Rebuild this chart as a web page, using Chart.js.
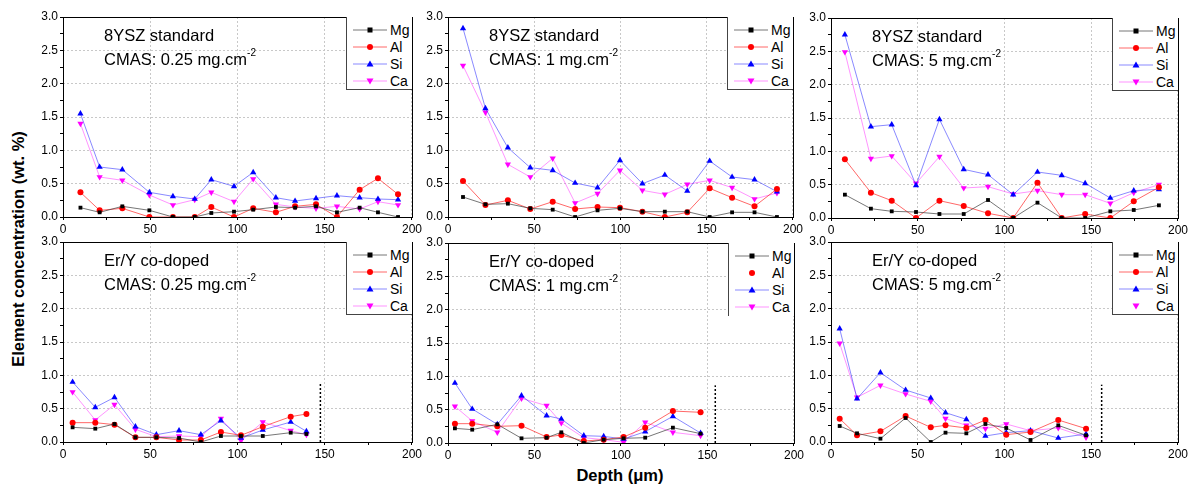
<!DOCTYPE html>
<html lang="en">
<head>
<meta charset="UTF-8">
<title>Element concentration vs depth</title>
<script src="https://cdn.jsdelivr.net/npm/chart.js"></script>
<style>
  body { margin: 0; background: #fff; font-family: Arial, 'Liberation Sans', sans-serif; color: #000; }
  #wrap { position: relative; width: 1193px; height: 486px; overflow: hidden; }
  canvas { position: absolute; }
  .note { position: absolute; font-size: 16.5px; line-height: 23.5px; white-space: nowrap; }
  .note sup { font-size: 10px; vertical-align: baseline; position: relative; top: -0.85em; }
  .legend { position: absolute; background: #fff; border-left: 1px solid #444; border-bottom: 1px solid #444; padding-top: 4px; box-sizing: border-box; }
  .legend.nobottom { border-bottom: none; }
  .legend .row { height: 17px; display: flex; align-items: center; font-size: 14px; }
  .legend svg { margin: 0 3px 0 6px; }
  .ytitle { position: absolute; left: 18px; top: 249px; font-weight: bold; font-size: 16.5px; white-space: nowrap;
            transform: translate(-50%, -50%) rotate(-90deg); }
  .xtitle { position: absolute; left: 620px; top: 475px; font-weight: bold; font-size: 16.5px; white-space: nowrap;
            transform: translate(-50%, -50%); }
</style>
</head>
<body>
<div id="wrap">
  <div class="ytitle">Element concentration (wt. %)</div>
  <div class="xtitle">Depth (μm)</div>
</div>

<script>
// ---- data ----
const elements = ['Mg', 'Al', 'Si', 'Ca'];

// 8YSZ standard, CMAS 0.25 mg/cm2
const ysz025Depth = [10, 21, 34, 49.5, 63, 75.5, 85, 98, 109, 122, 133, 145, 157, 170, 180.5, 192];
const ysz025Mg = [0.14, 0.07, 0.16, 0.10, 0, 0, 0.06, 0.08, 0.11, 0.15, 0.14, 0.16, 0.07, 0.14, 0.07, 0.0];
const ysz025Al = [0.37, 0.10, 0.13, 0, 0, 0, 0.15, 0, 0.13, 0.07, 0.16, 0.19, 0, 0.41, 0.58, 0.34];
const ysz025Si = [1.55, 0.75, 0.71, 0.37, 0.31, 0.27, 0.56, 0.46, 0.67, 0.29, 0.24, 0.28, 0.32, 0.29, 0.27, 0.26];
const ysz025Ca = [1.40, 0.60, 0.55, 0.33, 0.18, 0.26, 0.37, 0.23, 0.57, 0.19, 0.15, 0.13, 0.16, 0.12, 0.23, 0.18];

// 8YSZ standard, CMAS 1 mg/cm2
const ysz1Depth = [8.7, 21.7, 34.7, 47.7, 60.7, 73.7, 86.7, 99.7, 112.7, 125.7, 138.7, 151.7, 164.7, 177.7, 190.7];
const ysz1Mg = [0.30, 0.19, 0.20, 0.13, 0.11, 0.0, 0.10, 0.13, 0.08, 0.08, 0.08, 0.0, 0.07, 0.07, 0.0];
const ysz1Al = [0.54, 0.18, 0.25, 0.12, 0.23, 0.12, 0.15, 0.14, 0.08, 0.0, 0.07, 0.43, 0.29, 0.16, 0.42];
const ysz1Si = [2.83, 1.63, 1.04, 0.74, 0.70, 0.51, 0.44, 0.85, 0.50, 0.63, 0.39, 0.84, 0.60, 0.56, 0.38];
const ysz1Ca = [2.27, 1.57, 0.79, 0.60, 0.88, 0.21, 0.35, 0.70, 0.40, 0.34, 0.49, 0.55, 0.44, 0.27, 0.36];

// 8YSZ standard, CMAS 5 mg/cm2
const ysz5Depth = [8, 23, 35, 49, 62.5, 76.5, 90.5, 105, 119, 133, 146.5, 161, 174.5, 189];
const ysz5Mg = [0.35, 0.14, 0.10, 0.09, 0.06, 0.06, 0.27, 0.0, 0.23, 0.0, 0.0, 0.10, 0.12, 0.19];
const ysz5Al = [0.88, 0.38, 0.26, 0.0, 0.26, 0.18, 0.07, 0.0, 0.53, 0.0, 0.06, 0.0, 0.25, 0.46];
const ysz5Si = [2.75, 1.37, 1.40, 0.49, 1.48, 0.73, 0.65, 0.35, 0.69, 0.64, 0.52, 0.30, 0.41, 0.43];
const ysz5Ca = [2.49, 0.89, 0.93, 0.52, 0.92, 0.45, 0.47, 0.36, 0.41, 0.35, 0.35, 0.22, 0.38, 0.50];

// Er/Y co-doped, CMAS 0.25 mg/cm2
const ery025Depth = [5.5, 18.5, 29.5, 41.5, 53.5, 66.5, 79, 90.5, 102, 114.5, 130.5, 139.5];
const ery025Mg = [0.22, 0.20, 0.27, 0.07, 0.07, 0.06, 0.0, 0.09, 0.09, 0.09, 0.14, 0.12];
const ery025Al = [0.29, 0.29, 0.26, 0.07, 0.07, 0.03, 0.03, 0.15, 0.10, 0.23, 0.38, 0.42];
const ery025Si = [0.90, 0.52, 0.67, 0.23, 0.11, 0.17, 0.11, 0.32, 0.06, 0.18, 0.30, 0.16];
const ery025Ca = [0.75, 0.33, 0.56, 0.19, 0.08, 0.09, 0.08, 0.35, 0.02, 0.30, 0.17, 0.11];

// Er/Y co-doped, CMAS 1 mg/cm2
const ery1Depth = [4, 14, 28.5, 42.5, 57, 65.5, 78.5, 90, 101.5, 114, 130, 146];
const ery1Mg = [0.22, 0.20, 0.28, 0.07, 0.08, 0.16, 0.0, 0.05, 0.07, 0.08, 0.23, 0.14];
const ery1Al = [0.29, 0.29, 0.25, 0.26, 0.09, 0.12, 0.03, 0.05, 0.09, 0.23, 0.48, 0.46];
const ery1Si = [0.90, 0.51, 0.28, 0.71, 0.41, 0.36, 0.11, 0.10, 0.06, 0.17, 0.40, 0.15];
const ery1Ca = [0.55, 0.33, 0.16, 0.67, 0.56, 0.30, 0.08, 0.05, 0.01, 0.31, 0.16, 0.11];

// Er/Y co-doped, CMAS 5 mg/cm2
const ery5Depth = [5, 15, 28.5, 43, 57.5, 66, 78, 89, 101, 115, 131, 147];
const ery5Mg = [0.24, 0.13, 0.05, 0.36, 0.0, 0.14, 0.13, 0.27, 0.21, 0.03, 0.25, 0.10];
const ery5Al = [0.35, 0.10, 0.16, 0.39, 0.22, 0.25, 0.21, 0.33, 0.11, 0.15, 0.33, 0.20];
const ery5Si = [1.70, 0.65, 1.04, 0.78, 0.66, 0.44, 0.34, 0.09, 0.14, 0.17, 0.06, 0.12];
const ery5Ca = [1.48, 0.67, 0.85, 0.72, 0.61, 0.35, 0.25, 0.20, 0.27, 0.17, 0.21, 0.07];

// coating edge markers (dotted lines) in the Er/Y panels
const edgeDepth = [147.5, 154.5, 156];
const edgeTop = [0.87, 0.865, 0.86];

// ---- styles ----
const markerColor = { Mg: '#000000', Al: '#ff0000', Si: '#0000ff', Ca: '#ff00ff' };
const lineColor = { Mg: 'rgba(60,60,60,0.7)', Al: 'rgba(255,40,40,0.7)', Si: 'rgba(40,40,255,0.55)', Ca: 'rgba(255,60,255,0.55)' };
const pointStyle = { Mg: 'rect', Al: 'circle', Si: 'triangle', Ca: 'triangle' };
const pointRot = { Mg: 0, Al: 0, Si: 0, Ca: 180 };
const pointRad = { Mg: 2.7, Al: 3, Si: 3.6, Ca: 3.6 };

const panels = [
  { left: 63,  top: 17,  w: 349, title: '8YSZ standard', dose: '0.25', depth: ysz025Depth, vals: [ysz025Mg, ysz025Al, ysz025Si, ysz025Ca] },
  { left: 448, top: 17,  w: 345, title: '8YSZ standard', dose: '1',    depth: ysz1Depth,   vals: [ysz1Mg, ysz1Al, ysz1Si, ysz1Ca] },
  { left: 831, top: 18,  w: 347, title: '8YSZ standard', dose: '5',    depth: ysz5Depth,   vals: [ysz5Mg, ysz5Al, ysz5Si, ysz5Ca] },
  { left: 63,  top: 242, w: 349, title: 'Er/Y co-doped', dose: '0.25', depth: ery025Depth, vals: [ery025Mg, ery025Al, ery025Si, ery025Ca], edge: 0 },
  { left: 448, top: 243, w: 346, title: 'Er/Y co-doped', dose: '1',    depth: ery1Depth,   vals: [ery1Mg, ery1Al, ery1Si, ery1Ca], edge: 1, noLine: ['Al'], noBottom: true },
  { left: 831, top: 242, w: 347, title: 'Er/Y co-doped', dose: '5',    depth: ery5Depth,   vals: [ery5Mg, ery5Al, ery5Si, ery5Ca], edge: 2, noLine: ['Ca'] }
];

const PH = 200;       // plot height
const PADL = 40, PADT = 10, PADR = 12, PADB = 22;

const framePlugin = {
  id: 'frame',
  afterDraw(chart) {
    const a = chart.chartArea, ctx = chart.ctx;
    ctx.save();
    ctx.strokeStyle = '#000';
    ctx.lineWidth = 1;
    ctx.strokeRect(Math.round(a.left) + 0.5, Math.round(a.top) + 0.5, Math.round(a.right - a.left), Math.round(a.bottom - a.top));
    ctx.restore();
  }
};

function markerSvg(el, withLine) {
  const c = markerColor[el];
  let shape;
  if (el === 'Mg') shape = `<rect x="14.5" y="3.5" width="5" height="5" fill="${c}"/>`;
  else if (el === 'Al') shape = `<circle cx="17" cy="6" r="3" fill="${c}"/>`;
  else if (el === 'Si') shape = `<polygon points="17,2.5 20.5,8.5 13.5,8.5" fill="${c}"/>`;
  else shape = `<polygon points="13.5,3.5 20.5,3.5 17,9.5" fill="${c}"/>`;
  const line = withLine ? `<line x1="0" y1="6" x2="34" y2="6" stroke="${lineColor[el]}" stroke-width="1"/>` : '';
  return `<svg width="34" height="12" viewBox="0 0 34 12">${line}${shape}</svg>`;
}

const wrap = document.getElementById('wrap');

panels.forEach(p => {
  const cv = document.createElement('canvas');
  cv.width = p.w + PADL + PADR;
  cv.height = PH + PADT + PADB;
  cv.style.left = (p.left - PADL) + 'px';
  cv.style.top = (p.top - PADT) + 'px';
  wrap.appendChild(cv);

  const datasets = elements.map((el, k) => ({
    label: el,
    data: p.depth.map((d, i) => ({ x: d, y: p.vals[k][i] })),
    borderColor: lineColor[el],
    borderWidth: 1,
    backgroundColor: markerColor[el],
    pointBackgroundColor: markerColor[el],
    pointBorderColor: markerColor[el],
    pointBorderWidth: 0,
    pointStyle: pointStyle[el],
    pointRotation: pointRot[el],
    pointRadius: pointRad[el],
    tension: 0
  }));

  if (p.edge !== undefined) {
    datasets.push({
      label: 'edge',
      data: [{ x: edgeDepth[p.edge], y: 0 }, { x: edgeDepth[p.edge], y: edgeTop[p.edge] }],
      borderColor: '#000',
      borderWidth: 1.5,
      borderDash: [2, 2],
      pointRadius: 0
    });
  }

  new Chart(cv, {
    type: 'line',
    data: { datasets },
    options: {
      responsive: false,
      animation: false,
      layout: { padding: { top: PADT, right: PADR, left: 0, bottom: 0 } },
      plugins: { legend: { display: false }, tooltip: { enabled: false } },
      scales: {
        x: {
          type: 'linear', min: 0, max: 200,
          afterFit: s => { s.height = PADB; },
          ticks: {
            stepSize: 25, autoSkip: false, maxRotation: 0, padding: 2,
            color: '#000', font: { family: 'Arial, Liberation Sans', size: 12 },
            callback: v => (v % 50 === 0 ? String(v) : '')
          },
          grid: {
            color: c => (c.tick && c.tick.value % 50 === 0 ? '#c8c8c8' : 'rgba(0,0,0,0)'),
            tickColor: '#000', tickLength: 3, lineWidth: 1
          },
          border: { display: false, dash: [2, 2] }
        },
        y: {
          min: 0, max: 3,
          afterFit: s => { s.width = PADL; },
          ticks: {
            stepSize: 0.25, autoSkip: false, padding: 2,
            color: '#000', font: { family: 'Arial, Liberation Sans', size: 12 },
            callback: v => (Math.abs(v * 2 - Math.round(v * 2)) < 1e-6 ? v.toFixed(1) : '')
          },
          grid: {
            color: c => (c.tick && Math.abs(c.tick.value * 2 - Math.round(c.tick.value * 2)) < 1e-6 ? '#c8c8c8' : 'rgba(0,0,0,0)'),
            tickColor: '#000', tickLength: 3, lineWidth: 1
          },
          border: { display: false, dash: [2, 2] }
        }
      }
    },
    plugins: [framePlugin]
  });

  // panel annotation
  const note = document.createElement('div');
  note.className = 'note';
  note.style.left = (p.left + 41) + 'px';
  note.style.top = (p.top + 7) + 'px';
  note.innerHTML = `${p.title}<br>CMAS: ${p.dose} mg.cm<sup>-2</sup>`;
  wrap.appendChild(note);

  // legend
  const lg = document.createElement('div');
  lg.className = 'legend' + (p.noBottom ? ' nobottom' : '');
  lg.style.left = (p.left + p.w - 66) + 'px';
  lg.style.top = p.top + 'px';
  lg.style.width = '66px';
  lg.style.height = '73px';
  lg.innerHTML = elements.map(el =>
    `<div class="row">${markerSvg(el, !(p.noLine || []).includes(el))}<span>${el}</span></div>`
  ).join('');
  wrap.appendChild(lg);
});
</script>
</body>
</html>
